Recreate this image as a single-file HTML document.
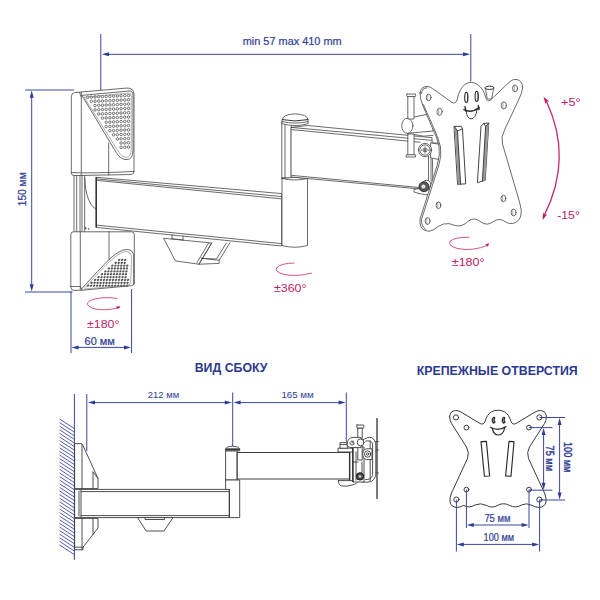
<!DOCTYPE html>
<html lang="ru">
<head>
<meta charset="utf-8">
<title>ВИД СБОКУ / КРЕПЕЖНЫЕ ОТВЕРСТИЯ</title>
<style>
html,body{margin:0;padding:0;background:#fff;}
body{width:600px;height:600px;overflow:hidden;}
svg{display:block;}
.g{fill:none;stroke:#454545;stroke-width:.8;stroke-linejoin:round;stroke-linecap:round;}
.gw{fill:#fff;stroke:#454545;stroke-width:.8;stroke-linejoin:round;stroke-linecap:round;}
.gl{fill:none;stroke:#777;stroke-width:.6;stroke-linecap:round;}
.b{fill:none;stroke:#3a47a3;stroke-width:1;}
.bf{fill:#2f3c97;stroke:none;}
.m{fill:none;stroke:#c4286a;stroke-width:.8;stroke-linecap:round;}
.mf{fill:#c01a66;stroke:none;}
text{font-family:"Liberation Sans",sans-serif;}
.tb{fill:#2f3c97;font-size:10px;stroke:#2f3c97;stroke-width:.2;}
.ts{fill:#2f3c97;font-size:9px;}
.tm{fill:#c01a66;font-size:11.5px;}
.tt{fill:#2b3990;font-size:13px;font-weight:bold;}
#holes-plate .gw,#holes-plate .g{stroke-width:1;stroke:#3a3a3a;}
#sideview .gw,#sideview .g{stroke-width:.9;stroke:#3c3c3c;}
</style>
</head>
<body>
<svg width="600" height="600" viewBox="0 0 600 600">
<rect width="600" height="600" fill="#fff"/>

<!-- ====== TOP VIEW : dimensions ====== -->
<g id="dims-top">
<path class="b" d="M100.8 34V90M470.8 34V81.5M108 54.3H464"/>
<path class="bf" d="M101.8 54.3l7.2-2v4zM470.2 54.3l-7.2-2v4z"/>
<text class="tb" x="242.7" y="45" textLength="99" lengthAdjust="spacingAndGlyphs" style="font-size:11.3px">min 57 max 410 mm</text>
<path class="b" d="M25 90H74M25 292H72.5M31.7 96V286"/>
<path class="bf" d="M31.7 90.5l-2 7.2h4zM31.7 291.5l-2-7.2h4z"/>
<text class="tb" transform="translate(25.7 206.3) rotate(-90)" textLength="34" lengthAdjust="spacingAndGlyphs" style="font-size:10.6px">150 мм</text>
<path class="b" d="M71 291V353M131.6 289V353M77 347.4H126"/>
<path class="bf" d="M71.6 347.4l7-2v4zM131 347.4l-7-2v4z"/>
<text class="tb" x="84.6" y="345" textLength="30.2" lengthAdjust="spacingAndGlyphs" style="font-size:10.2px">60 мм</text>
</g>

<!-- ====== TOP VIEW : drawing ====== -->
<g id="topview">
<!-- column between covers -->
<path class="g" d="M74 175V232M76.7 175V232M80 175V232M82 175V232M84.7 175V232M96.3 177.5V226.7M84.7 178C85.4 196 90 206 96.3 209.5"/>
<!-- upper cover -->
<path class="gw" d="M71.3 96.5Q71.3 93 74.5 92.6L126 88.1Q134 87.4 134 94.5V171.5Q134 174.4 131 174.5L74 175.6Q71.3 175.6 71.3 173Z"/>
<path class="g" d="M81.3 92.2V175.4M79.5 92.4L81.3 97M108.7 143V175M71.3 172.5Q90 173.6 134 171.5"/>
<g fill="#fff" stroke="#484848" stroke-width=".75" transform="translate(0 .4)"><circle cx="128.50" cy="95.06" r="1.25"/><circle cx="124.78" cy="95.22" r="1.25"/><circle cx="121.06" cy="95.39" r="1.25"/><circle cx="117.34" cy="95.56" r="1.25"/><circle cx="113.62" cy="95.72" r="1.25"/><circle cx="109.90" cy="95.89" r="1.25"/><circle cx="106.18" cy="96.06" r="1.25"/><circle cx="102.46" cy="96.23" r="1.25"/><circle cx="98.74" cy="96.39" r="1.25"/><circle cx="95.02" cy="96.56" r="1.25"/><circle cx="91.30" cy="96.73" r="1.25"/><circle cx="87.58" cy="96.90" r="1.25"/><circle cx="128.50" cy="99.36" r="1.25"/><circle cx="124.78" cy="99.52" r="1.25"/><circle cx="121.06" cy="99.69" r="1.25"/><circle cx="117.34" cy="99.86" r="1.25"/><circle cx="113.62" cy="100.02" r="1.25"/><circle cx="109.90" cy="100.19" r="1.25"/><circle cx="106.18" cy="100.36" r="1.25"/><circle cx="102.46" cy="100.53" r="1.25"/><circle cx="98.74" cy="100.69" r="1.25"/><circle cx="95.02" cy="100.86" r="1.25"/><circle cx="91.30" cy="101.03" r="1.25"/><circle cx="128.50" cy="103.66" r="1.25"/><circle cx="124.78" cy="103.82" r="1.25"/><circle cx="121.06" cy="103.99" r="1.25"/><circle cx="117.34" cy="104.16" r="1.25"/><circle cx="113.62" cy="104.32" r="1.25"/><circle cx="109.90" cy="104.49" r="1.25"/><circle cx="106.18" cy="104.66" r="1.25"/><circle cx="102.46" cy="104.83" r="1.25"/><circle cx="98.74" cy="104.99" r="1.25"/><circle cx="95.02" cy="105.16" r="1.25"/><circle cx="128.50" cy="107.96" r="1.25"/><circle cx="124.78" cy="108.12" r="1.25"/><circle cx="121.06" cy="108.29" r="1.25"/><circle cx="117.34" cy="108.46" r="1.25"/><circle cx="113.62" cy="108.62" r="1.25"/><circle cx="109.90" cy="108.79" r="1.25"/><circle cx="106.18" cy="108.96" r="1.25"/><circle cx="102.46" cy="109.13" r="1.25"/><circle cx="98.74" cy="109.29" r="1.25"/><circle cx="95.02" cy="109.46" r="1.25"/><circle cx="128.50" cy="112.26" r="1.25"/><circle cx="124.78" cy="112.42" r="1.25"/><circle cx="121.06" cy="112.59" r="1.25"/><circle cx="117.34" cy="112.76" r="1.25"/><circle cx="113.62" cy="112.92" r="1.25"/><circle cx="109.90" cy="113.09" r="1.25"/><circle cx="106.18" cy="113.26" r="1.25"/><circle cx="102.46" cy="113.43" r="1.25"/><circle cx="98.74" cy="113.59" r="1.25"/><circle cx="128.50" cy="116.56" r="1.25"/><circle cx="124.78" cy="116.72" r="1.25"/><circle cx="121.06" cy="116.89" r="1.25"/><circle cx="117.34" cy="117.06" r="1.25"/><circle cx="113.62" cy="117.22" r="1.25"/><circle cx="109.90" cy="117.39" r="1.25"/><circle cx="106.18" cy="117.56" r="1.25"/><circle cx="102.46" cy="117.73" r="1.25"/><circle cx="128.50" cy="120.86" r="1.25"/><circle cx="124.78" cy="121.02" r="1.25"/><circle cx="121.06" cy="121.19" r="1.25"/><circle cx="117.34" cy="121.36" r="1.25"/><circle cx="113.62" cy="121.52" r="1.25"/><circle cx="109.90" cy="121.69" r="1.25"/><circle cx="106.18" cy="121.86" r="1.25"/><circle cx="128.50" cy="125.16" r="1.25"/><circle cx="124.78" cy="125.32" r="1.25"/><circle cx="121.06" cy="125.49" r="1.25"/><circle cx="117.34" cy="125.66" r="1.25"/><circle cx="113.62" cy="125.82" r="1.25"/><circle cx="109.90" cy="125.99" r="1.25"/><circle cx="106.18" cy="126.16" r="1.25"/><circle cx="128.50" cy="129.46" r="1.25"/><circle cx="124.78" cy="129.62" r="1.25"/><circle cx="121.06" cy="129.79" r="1.25"/><circle cx="117.34" cy="129.96" r="1.25"/><circle cx="113.62" cy="130.12" r="1.25"/><circle cx="109.90" cy="130.29" r="1.25"/><circle cx="128.50" cy="133.75" r="1.25"/><circle cx="124.78" cy="133.92" r="1.25"/><circle cx="121.06" cy="134.09" r="1.25"/><circle cx="117.34" cy="134.26" r="1.25"/><circle cx="113.62" cy="134.42" r="1.25"/><circle cx="128.50" cy="138.06" r="1.25"/><circle cx="124.78" cy="138.22" r="1.25"/><circle cx="121.06" cy="138.39" r="1.25"/><circle cx="117.34" cy="138.56" r="1.25"/><circle cx="128.50" cy="142.35" r="1.25"/><circle cx="124.78" cy="142.52" r="1.25"/><circle cx="121.06" cy="142.69" r="1.25"/><circle cx="128.50" cy="146.66" r="1.25"/><circle cx="124.78" cy="146.82" r="1.25"/><circle cx="121.06" cy="146.99" r="1.25"/></g>
<path class="g" d="M82.3 95.3L129 91Q133 90.8 133 95V150Q133 160 126 159.6Q120.5 159.4 116.2 152.6Z"/>
<path class="gl" d="M84.6 97.2L128.5 93Q131.2 92.9 131.2 96V149Q131.2 157.5 126 157.3Q121.6 157 118 151Z"/>
<!-- lower cover -->
<path class="gw" d="M70.8 234Q70.8 231.8 73.5 231.8H131.5Q134.3 231.8 134.3 234.5V283Q134.3 285.3 131.5 285.7L82.5 290.2L74 290.4Q70.8 290.4 70.8 287.5Z"/>
<path class="g" d="M80.3 231.8V289.6M109 231.8V259.6M70.8 286.5L80.3 286.5L82.3 290"/>
<g fill="#565656"><ellipse cx="119.20" cy="259.90" rx="1.3" ry="1.02" transform="rotate(-25 119.20 259.90)"/><ellipse cx="122.20" cy="259.90" rx="1.3" ry="1.02" transform="rotate(-25 122.20 259.90)"/><ellipse cx="125.20" cy="259.90" rx="1.3" ry="1.02" transform="rotate(-25 125.20 259.90)"/><ellipse cx="115.75" cy="262.76" rx="1.3" ry="1.02" transform="rotate(-25 115.75 262.76)"/><ellipse cx="118.75" cy="262.76" rx="1.3" ry="1.02" transform="rotate(-25 118.75 262.76)"/><ellipse cx="121.75" cy="262.76" rx="1.3" ry="1.02" transform="rotate(-25 121.75 262.76)"/><ellipse cx="124.75" cy="262.76" rx="1.3" ry="1.02" transform="rotate(-25 124.75 262.76)"/><ellipse cx="112.30" cy="265.62" rx="1.3" ry="1.02" transform="rotate(-25 112.30 265.62)"/><ellipse cx="115.30" cy="265.62" rx="1.3" ry="1.02" transform="rotate(-25 115.30 265.62)"/><ellipse cx="118.30" cy="265.62" rx="1.3" ry="1.02" transform="rotate(-25 118.30 265.62)"/><ellipse cx="121.30" cy="265.62" rx="1.3" ry="1.02" transform="rotate(-25 121.30 265.62)"/><ellipse cx="124.30" cy="265.62" rx="1.3" ry="1.02" transform="rotate(-25 124.30 265.62)"/><ellipse cx="127.30" cy="265.62" rx="1.3" ry="1.02" transform="rotate(-25 127.30 265.62)"/><ellipse cx="108.85" cy="268.48" rx="1.3" ry="1.02" transform="rotate(-25 108.85 268.48)"/><ellipse cx="111.85" cy="268.48" rx="1.3" ry="1.02" transform="rotate(-25 111.85 268.48)"/><ellipse cx="114.85" cy="268.48" rx="1.3" ry="1.02" transform="rotate(-25 114.85 268.48)"/><ellipse cx="117.85" cy="268.48" rx="1.3" ry="1.02" transform="rotate(-25 117.85 268.48)"/><ellipse cx="120.85" cy="268.48" rx="1.3" ry="1.02" transform="rotate(-25 120.85 268.48)"/><ellipse cx="123.85" cy="268.48" rx="1.3" ry="1.02" transform="rotate(-25 123.85 268.48)"/><ellipse cx="126.85" cy="268.48" rx="1.3" ry="1.02" transform="rotate(-25 126.85 268.48)"/><ellipse cx="105.40" cy="271.34" rx="1.3" ry="1.02" transform="rotate(-25 105.40 271.34)"/><ellipse cx="108.40" cy="271.34" rx="1.3" ry="1.02" transform="rotate(-25 108.40 271.34)"/><ellipse cx="111.40" cy="271.34" rx="1.3" ry="1.02" transform="rotate(-25 111.40 271.34)"/><ellipse cx="114.40" cy="271.34" rx="1.3" ry="1.02" transform="rotate(-25 114.40 271.34)"/><ellipse cx="117.40" cy="271.34" rx="1.3" ry="1.02" transform="rotate(-25 117.40 271.34)"/><ellipse cx="120.40" cy="271.34" rx="1.3" ry="1.02" transform="rotate(-25 120.40 271.34)"/><ellipse cx="123.40" cy="271.34" rx="1.3" ry="1.02" transform="rotate(-25 123.40 271.34)"/><ellipse cx="126.40" cy="271.34" rx="1.3" ry="1.02" transform="rotate(-25 126.40 271.34)"/><ellipse cx="101.95" cy="274.20" rx="1.3" ry="1.02" transform="rotate(-25 101.95 274.20)"/><ellipse cx="104.95" cy="274.20" rx="1.3" ry="1.02" transform="rotate(-25 104.95 274.20)"/><ellipse cx="107.95" cy="274.20" rx="1.3" ry="1.02" transform="rotate(-25 107.95 274.20)"/><ellipse cx="110.95" cy="274.20" rx="1.3" ry="1.02" transform="rotate(-25 110.95 274.20)"/><ellipse cx="113.95" cy="274.20" rx="1.3" ry="1.02" transform="rotate(-25 113.95 274.20)"/><ellipse cx="116.95" cy="274.20" rx="1.3" ry="1.02" transform="rotate(-25 116.95 274.20)"/><ellipse cx="119.95" cy="274.20" rx="1.3" ry="1.02" transform="rotate(-25 119.95 274.20)"/><ellipse cx="122.95" cy="274.20" rx="1.3" ry="1.02" transform="rotate(-25 122.95 274.20)"/><ellipse cx="125.95" cy="274.20" rx="1.3" ry="1.02" transform="rotate(-25 125.95 274.20)"/><ellipse cx="98.50" cy="277.06" rx="1.3" ry="1.02" transform="rotate(-25 98.50 277.06)"/><ellipse cx="101.50" cy="277.06" rx="1.3" ry="1.02" transform="rotate(-25 101.50 277.06)"/><ellipse cx="104.50" cy="277.06" rx="1.3" ry="1.02" transform="rotate(-25 104.50 277.06)"/><ellipse cx="107.50" cy="277.06" rx="1.3" ry="1.02" transform="rotate(-25 107.50 277.06)"/><ellipse cx="110.50" cy="277.06" rx="1.3" ry="1.02" transform="rotate(-25 110.50 277.06)"/><ellipse cx="113.50" cy="277.06" rx="1.3" ry="1.02" transform="rotate(-25 113.50 277.06)"/><ellipse cx="116.50" cy="277.06" rx="1.3" ry="1.02" transform="rotate(-25 116.50 277.06)"/><ellipse cx="119.50" cy="277.06" rx="1.3" ry="1.02" transform="rotate(-25 119.50 277.06)"/><ellipse cx="122.50" cy="277.06" rx="1.3" ry="1.02" transform="rotate(-25 122.50 277.06)"/><ellipse cx="125.50" cy="277.06" rx="1.3" ry="1.02" transform="rotate(-25 125.50 277.06)"/><ellipse cx="95.05" cy="279.92" rx="1.3" ry="1.02" transform="rotate(-25 95.05 279.92)"/><ellipse cx="98.05" cy="279.92" rx="1.3" ry="1.02" transform="rotate(-25 98.05 279.92)"/><ellipse cx="101.05" cy="279.92" rx="1.3" ry="1.02" transform="rotate(-25 101.05 279.92)"/><ellipse cx="104.05" cy="279.92" rx="1.3" ry="1.02" transform="rotate(-25 104.05 279.92)"/><ellipse cx="107.05" cy="279.92" rx="1.3" ry="1.02" transform="rotate(-25 107.05 279.92)"/><ellipse cx="110.05" cy="279.92" rx="1.3" ry="1.02" transform="rotate(-25 110.05 279.92)"/><ellipse cx="113.05" cy="279.92" rx="1.3" ry="1.02" transform="rotate(-25 113.05 279.92)"/><ellipse cx="116.05" cy="279.92" rx="1.3" ry="1.02" transform="rotate(-25 116.05 279.92)"/><ellipse cx="119.05" cy="279.92" rx="1.3" ry="1.02" transform="rotate(-25 119.05 279.92)"/><ellipse cx="122.05" cy="279.92" rx="1.3" ry="1.02" transform="rotate(-25 122.05 279.92)"/><ellipse cx="125.05" cy="279.92" rx="1.3" ry="1.02" transform="rotate(-25 125.05 279.92)"/><ellipse cx="128.05" cy="279.92" rx="1.3" ry="1.02" transform="rotate(-25 128.05 279.92)"/><ellipse cx="91.60" cy="282.78" rx="1.3" ry="1.02" transform="rotate(-25 91.60 282.78)"/><ellipse cx="94.60" cy="282.78" rx="1.3" ry="1.02" transform="rotate(-25 94.60 282.78)"/><ellipse cx="97.60" cy="282.78" rx="1.3" ry="1.02" transform="rotate(-25 97.60 282.78)"/><ellipse cx="100.60" cy="282.78" rx="1.3" ry="1.02" transform="rotate(-25 100.60 282.78)"/><ellipse cx="103.60" cy="282.78" rx="1.3" ry="1.02" transform="rotate(-25 103.60 282.78)"/><ellipse cx="106.60" cy="282.78" rx="1.3" ry="1.02" transform="rotate(-25 106.60 282.78)"/><ellipse cx="109.60" cy="282.78" rx="1.3" ry="1.02" transform="rotate(-25 109.60 282.78)"/><ellipse cx="112.60" cy="282.78" rx="1.3" ry="1.02" transform="rotate(-25 112.60 282.78)"/><ellipse cx="115.60" cy="282.78" rx="1.3" ry="1.02" transform="rotate(-25 115.60 282.78)"/><ellipse cx="118.60" cy="282.78" rx="1.3" ry="1.02" transform="rotate(-25 118.60 282.78)"/><ellipse cx="121.60" cy="282.78" rx="1.3" ry="1.02" transform="rotate(-25 121.60 282.78)"/><ellipse cx="124.60" cy="282.78" rx="1.3" ry="1.02" transform="rotate(-25 124.60 282.78)"/><ellipse cx="127.60" cy="282.78" rx="1.3" ry="1.02" transform="rotate(-25 127.60 282.78)"/><ellipse cx="88.15" cy="285.64" rx="1.3" ry="1.02" transform="rotate(-25 88.15 285.64)"/><ellipse cx="91.15" cy="285.64" rx="1.3" ry="1.02" transform="rotate(-25 91.15 285.64)"/><ellipse cx="94.15" cy="285.64" rx="1.3" ry="1.02" transform="rotate(-25 94.15 285.64)"/><ellipse cx="97.15" cy="285.64" rx="1.3" ry="1.02" transform="rotate(-25 97.15 285.64)"/><ellipse cx="100.15" cy="285.64" rx="1.3" ry="1.02" transform="rotate(-25 100.15 285.64)"/><ellipse cx="103.15" cy="285.64" rx="1.3" ry="1.02" transform="rotate(-25 103.15 285.64)"/><ellipse cx="106.15" cy="285.64" rx="1.3" ry="1.02" transform="rotate(-25 106.15 285.64)"/><ellipse cx="109.15" cy="285.64" rx="1.3" ry="1.02" transform="rotate(-25 109.15 285.64)"/><ellipse cx="112.15" cy="285.64" rx="1.3" ry="1.02" transform="rotate(-25 112.15 285.64)"/><ellipse cx="115.15" cy="285.64" rx="1.3" ry="1.02" transform="rotate(-25 115.15 285.64)"/><ellipse cx="118.15" cy="285.64" rx="1.3" ry="1.02" transform="rotate(-25 118.15 285.64)"/><ellipse cx="121.15" cy="285.64" rx="1.3" ry="1.02" transform="rotate(-25 121.15 285.64)"/><ellipse cx="124.15" cy="285.64" rx="1.3" ry="1.02" transform="rotate(-25 124.15 285.64)"/><ellipse cx="127.15" cy="285.64" rx="1.3" ry="1.02" transform="rotate(-25 127.15 285.64)"/></g>
<path class="g" d="M81.5 289Q100 268.5 109 259.6Q119 250 126 249.5Q133.5 249.4 133.7 256V284"/>
<path class="gl" d="M85 287.6Q102 269 110 261.2Q119 252.6 125 251.6Q131.5 251.3 131.7 258L130.6 283Q130 285 127 285.3L84 289"/>
<!-- first arm -->
<path class="gw" d="M96.3 177.3L281.7 193.6V246L96.3 227.4Z"/>
<path class="g" d="M96.8 178.9L281.7 196.6M97.5 180.4L280.8 198.8M97.2 225.2L281.7 243.6"/>
<path d="M96.4 177.3V227.4" fill="none" stroke="#333" stroke-width="1.2"/><circle cx="85.6" cy="228.2" r="1" fill="#444"/><circle cx="88.6" cy="229" r=".8" fill="#444"/>
<!-- cable clip -->
<path class="gw" d="M164 238.3L211.7 243L199 264.2L175.8 261Z"/>
<path class="g" d="M230 242.6L219.2 260.3V263.4L199 264.2M226.3 243L216.5 259L201.5 258.3M201.5 258.3L219.2 260.3M172 234.8V238.8M183 236V240M172 238.8L183 240M208.5 243.2L197 262.5M211.7 243L199 264.2"/>
<!-- elbow -->
<path class="gw" d="M282.2 122H291.4V178H282.2Z"/>
<path class="g" d="M285 125V178"/>
<path class="gw" d="M282 178.5V245.5Q294.7 249 307.5 245.5V178.5Z"/>
<path class="gw" d="M282 178.5Q294.7 181.5 307.5 178.5Q294.7 176 282 178.5Z"/>
<path class="gw" d="M282.2 119.6Q283 114.2 295 113.9Q307.2 114.2 308 119.6V123.8Q295 127.4 282.2 123.8Z"/>
<path class="g" style="stroke-width:1;stroke:#333" d="M282.2 119.6Q295 122.4 308 119.6"/><path class="g" d="M282.2 121.6Q295 124.6 308 121.6"/>
<!-- second arm -->
<path class="gw" d="M291.3 127.4L307.8 125.5L432 137.7L433 190.2L291.3 177Z"/>
<path class="g" d="M291.3 127.4L432 140.4M292 129.6L420 142.3M292 175.4L420 187.6"/>
</g>

<!-- ====== TOP VIEW : head / plate ====== -->
<g id="head">
<!-- tilt knob & pin -->
<path class="gw" d="M407.3 118.3L426 114.6L433 113.6V131L407.3 133.3Z"/><path class="g" d="M414 134.6Q424 137.4 433 135.4"/>
<ellipse class="gw" cx="407.3" cy="125.8" rx="5.6" ry="7.5"/>
<path class="gw" d="M408.2 96.5H414V119H408.2Z"/>
<path class="gw" d="M407 94H415.4Q416 95.3 415.4 96.6H407Q406.4 95.3 407 94Z"/>
<path class="gw" d="M408.2 134H414V155H408.2Z"/>
<path class="gw" d="M406.6 154.8H415.6V157H406.6Z"/>
<!-- bracket behind plate -->
<path class="g" d="M428.5 156V181M431 156V181M432 143H440M433 146L441 147"/>
<path class="gw" d="M431 143L442 144.5V160L431 158Z"/>
<circle class="gw" cx="425" cy="150" r="6.6"/>
<circle class="g" cx="425" cy="150" r="5.2"/>
<path class="g" d="M421.5 150H428.5M425 146.8V153.2M423.5 148.8H426.5M423.5 151.3H426.5"/>
<circle cx="426.6" cy="184.4" r="4.2" fill="#fff" stroke="#333" stroke-width=".8"/>
<circle cx="424" cy="186.7" r="5" fill="#5a5a5a" stroke="#2a2a2a" stroke-width=".9"/>
<circle cx="423.4" cy="186.6" r="2.5" fill="#e4e4e4" stroke="#2a2a2a" stroke-width=".6"/>
<path class="g" d="M418 188.5L414 189.5V192L419 193.5M419 193.5L428 195"/>
<!-- tube behind head -->
<path class="gw" d="M485.3 88L487.3 99H491.5L494 87.5Q489.5 85.2 485.3 88Z"/>
<ellipse cx="489.4" cy="87.8" rx="4.4" ry="1.7" fill="#fff" stroke="#333" stroke-width="1"/>
<!-- plate outline -->
<path class="gw" d="M420 93Q420.5 86.5 427 86.4Q430 86.6 432.5 88.5L452 102.5Q455.5 104.3 457 100Q459.5 88 465.5 84Q471 80.5 477.5 84.5Q483.5 88.5 485.5 97Q487 102.8 490.5 100L510 81.5Q513 78.8 517 79.5Q522.8 81 522.6 88Q522 93 519 99L504.5 130Q500.6 137 502.5 144L519.8 203Q522.3 211 520.8 216Q518.5 222.5 512.5 223.5Q508 224 505 221.5Q499 217.5 493.5 221.5Q487 226.5 481 222Q474.5 216.5 468.5 221Q462 227.5 455 225.5Q449 222.5 443.5 224Q438 226 434 229.5Q429.5 232.5 425 230.5Q419 227.5 420 219L437 166Q440.5 155 439 146Q437 137 432 127L423 106Q420 99 420 93Z"/>
<path class="g" d="M421.4 93.5Q421.7 88 427 87.8M423.4 104.6L433.6 127.6Q438.6 138.6 440.5 147Q441.9 156 438.6 166L421.5 219.4Q420.9 226 425.6 229.4"/>
<!-- holes -->
<g class="gw">
<ellipse cx="428.7" cy="97.5" rx="2.4" ry="3.3"/><ellipse cx="439.6" cy="111.8" rx="2.6" ry="3.6"/>
<ellipse cx="515" cy="88.4" rx="2.5" ry="3.4"/><ellipse cx="503.8" cy="105.4" rx="2.6" ry="3.6"/>
<ellipse cx="438.5" cy="205.3" rx="2.4" ry="3.3"/><ellipse cx="427.6" cy="221" rx="2.5" ry="3.4"/>
<ellipse cx="503.4" cy="198.5" rx="2.4" ry="3.3"/><ellipse cx="513.6" cy="212.5" rx="2.5" ry="3.4"/>
</g>
<path class="gl" d="M427.8 94.6V100.4M438.7 108.6V115M514.2 85.4V91.4M503 102.2V108.6M437.7 202.4V208.2M426.8 218V224M502.6 195.6V201.4M512.8 209.5V215.5"/>
<!-- slots -->
<path class="gw" style="stroke-width:.95;stroke:#3c3c3c" d="M454.4 126.4L461.3 126.3L462.5 128.8L465.7 183.8L458 184.4Z"/>
<path d="M454.4 126.4L457.5 131L460.6 184.2L458 184.4Z" fill="#9a9a9a" stroke="none"/><path class="g" style="stroke:#333;stroke-width:.9" d="M454.4 126.4L457.5 131L460.6 184.2M457.5 131L462.5 128.8"/>
<path class="gw" style="stroke-width:.95;stroke:#3c3c3c" d="M481.3 126L483.8 123.4L488.8 123.1L485.2 180.3L477.8 182.5Z"/>
<path d="M488.8 123.1L485.6 126.6L482.4 181L485.2 180.3Z" fill="#9a9a9a" stroke="none"/><path class="g" style="stroke:#333;stroke-width:.9" d="M485.6 126.6L482.4 181M483.8 123.4L485.6 126.6L488.8 123.1"/>
<!-- face -->
<g fill="none" stroke="#2e2e2e" stroke-width="1.15" stroke-linecap="round">
<ellipse cx="466.3" cy="97.4" rx="1.6" ry="5"/><ellipse cx="476.7" cy="96.4" rx="1.6" ry="5"/>
<path d="M467.6 94V100.8M478 93V99.8" stroke-width=".8"/>
<path d="M463.9 109.6Q471 113.6 479.2 107.6" stroke-width="1.5"/>
<path d="M465 106.6L465.8 111M478.2 105.4L479 109.6" stroke-width="1.4"/>
<path d="M466.2 111.4Q467 118.6 471 118.9Q475.6 118.6 477 110" stroke-width=".9"/>
</g>
<circle cx="470.5" cy="219.6" r=".6" fill="#666"/>
</g>

<!-- ====== TOP VIEW : rotation marks ====== -->
<g id="rot">
<path class="m" d="M117 298.4Q103 296.4 92.5 299.6Q85 302.6 88.6 306Q94 310.6 108 309.6Q114 309 119.4 307.4"/>
<path class="mf" d="M120.6 306.2l-4.4 .2l1.2 2.6z"/>
<text class="tm" x="87" y="328.2" textLength="32.4" lengthAdjust="spacingAndGlyphs">±180°</text>
<path class="m" d="M294 263Q281 263.4 277 267.4Q273.6 271.6 284 274.4Q296 277 311.5 273.2"/>
<text class="tm" x="274" y="291.9" textLength="32.4" lengthAdjust="spacingAndGlyphs">±360°</text>
<path class="m" d="M469 237.3Q454 237 450 241.4Q447.6 246 458 248.6Q472 251.6 488.4 245.2"/>
<path class="mf" d="M489.2 243l-3.8 1.6l2.2 2.2z"/>
<text class="tm" x="451.8" y="266.2" textLength="32.6" lengthAdjust="spacingAndGlyphs">±180°</text>
<path class="m" style="stroke-width:1.3" d="M546.4 101.3Q573 158 544.5 214.9"/>
<path class="mf" d="M543.4 96.7L549.4 101.6L546.4 101.3L545.6 104.2ZM542.6 220.1L547.4 213.9L544.5 214.9L543 212.2Z"/>
<text class="tm" x="561" y="105.8" textLength="19.6" lengthAdjust="spacingAndGlyphs" style="font-size:11.6px">+5°</text>
<text class="tm" x="557.2" y="219.2" textLength="22.6" lengthAdjust="spacingAndGlyphs" style="font-size:11.6px">-15°</text>
</g>

<!-- ====== titles ====== -->
<text class="tt" x="194.7" y="371.7" textLength="72.8" lengthAdjust="spacingAndGlyphs">ВИД СБОКУ</text>
<text class="tt" x="416.7" y="375" textLength="161" lengthAdjust="spacingAndGlyphs">КРЕПЕЖНЫЕ ОТВЕРСТИЯ</text>

<!-- ====== SIDE VIEW ====== -->
<g id="side-dims">
<path d="M59.6 419.0L74.4 428.6M59.6 422.6L74.4 432.2M59.6 426.2L74.4 435.8M59.6 429.8L74.4 439.4M59.6 433.4L74.4 443.0M59.6 437.0L74.4 446.6M59.6 440.6L74.4 450.2M59.6 444.2L74.4 453.8M59.6 447.8L74.4 457.4M59.6 451.4L74.4 461.0M59.6 455.0L74.4 464.6M59.6 458.6L74.4 468.2M59.6 462.2L74.4 471.8M59.6 465.8L74.4 475.4M59.6 469.4L74.4 479.0M59.6 473.0L74.4 482.6M59.6 476.6L74.4 486.2M59.6 480.2L74.4 489.8M59.6 483.8L74.4 493.4M59.6 487.4L74.4 497.0M59.6 491.0L74.4 500.6M59.6 494.6L74.4 504.2M59.6 498.2L74.4 507.8M59.6 501.8L74.4 511.4M59.6 505.4L74.4 515.0M59.6 509.0L74.4 518.6M59.6 512.6L74.4 522.2M59.6 516.2L74.4 525.8M59.6 519.8L74.4 529.4M59.6 523.4L74.4 533.0M59.6 527.0L74.4 536.6M59.6 530.6L74.4 540.2M59.6 534.2L74.4 543.8M59.6 537.8L74.4 547.4M59.6 541.4L74.4 551.0M59.6 545.0L74.4 554.6" fill="none" stroke="#3f4cab" stroke-width=".9"/>
<path class="b" d="M74.4 394V560M86.8 394V451M232.7 392.5V446M346.3 392.5V441.7M94 402.6H226M239 402.6H340"/>
<path class="bf" d="M88 402.6l7-2v4zM231.8 402.6l-7-2v4zM233.6 402.6l7-2v4zM345.6 402.6l-7-2v4z"/>
<text class="ts" x="147.8" y="397.5" textLength="31.4" lengthAdjust="spacingAndGlyphs">212 мм</text>
<text class="ts" x="281.4" y="397.5" textLength="32.4" lengthAdjust="spacingAndGlyphs">165 мм</text>
</g>
<g id="sideview">
<!-- wall covers -->
<path class="gw" d="M75 443.6H81.5L83 445.6L98 478.5V488.6H75Z"/>
<path class="g" d="M82 444.5V488.6M93 472V488.6M93 472L98 478.5"/>
<path class="gw" d="M75 518.4H98V528L83 547.2V549.8H75Z"/>
<path class="g" d="M82 518.4V549.8M93 518.4V534.4M75 547.2H83"/>
<!-- first arm -->
<path class="gw" d="M75 489.4H229.4V517.6H75Z"/>
<path class="g" d="M81 491.6H229.4M81 515.6H229.4M81 489.4V517.6M79 491V516"/>
<!-- clip -->
<path class="gw" d="M138 517.6H173L164 531H146.5Z"/>
<path class="g" d="M145 517.6V519.5H164.5V517.6"/>
<!-- elbow -->
<path class="gw" d="M226 450.8H237.2V480H226Z"/>
<path class="gw" d="M226 480H239.7V517.6H229.4V489.4H226Z"/>
<path class="gw" d="M225.7 448.6Q226.2 446.5 232.7 446.2Q239.2 446.5 239.7 448.6V450.8H225.7Z"/><path d="M225.9 449.3H239.5" stroke="#333" stroke-width="1.9" fill="none"/>
<path class="g" d="M229.4 489.4V517.6"/>
<!-- second arm -->
<path class="gw" style="stroke-width:1.15" d="M237.2 452.5H349.6V479H237.2Z"/>

<!-- head assembly -->
<path class="gw" d="M338.4 448.2H353V452H338.4Z"/>
<path class="gw" d="M340.4 442.6H347.4V448.2H340.4Z"/>
<path class="g" d="M340.4 444.6H347.4"/>
<path class="gw" d="M338.4 480.6H358Q357.6 484 352 485Q346 487 341 485.8Q338 484.4 338.4 480.6Z"/>
<path d="M377 418V499" fill="none" stroke="#333" stroke-width="1.3"/>
<path class="g" d="M375.6 441.6H378.4M375.6 450H378.4M375.6 473H378.4"/>
<path class="gw" d="M362 440.4Q368 436.6 371.6 437.6Q375.8 440 375.8 446V473Q375.8 478.6 371.6 481.4Q368 482.8 362 482Z"/>
<path class="g" d="M365.6 441.2Q370.4 439.6 372.6 443.4V475.6Q370.4 480 365.6 479.6M370.2 441V480.6"/>
<path class="gw" d="M353 447H364V482H353Z"/>
<path class="g" d="M356 452V480M362 462V472Q361.6 476 358 476.6M353 462H358"/>
<path d="M349.6 452V480.4M353 447V482" fill="none" stroke="#2e2e2e" stroke-width="1.3"/>
<path class="gw" d="M358.2 428H362.2V460H358.2Z"/>
<path class="gw" d="M357 425H363.6Q364.2 426.5 363.6 428H357Q356.4 426.5 357 425Z"/>
<path class="gw" d="M347 443.6Q347.6 437.8 353 437.4H361V447.6H351Q346.8 447.4 347 443.6Z"/>
<path class="g" d="M353.6 441.2Q350.4 440.4 349.8 442.6Q349.8 445 352.4 445Q354.4 444.6 354 442.8H352"/>
<circle class="gw" cx="360.6" cy="442.4" r="3.4"/>
<path class="gw" d="M362.6 452.6Q363 449.2 366.4 448.8H372V459.6H366.4Q362.6 459.2 362.6 452.6Z"/>
<circle class="gw" cx="367.6" cy="454" r="3.2"/>
<circle class="g" cx="367.6" cy="454" r="1.2"/>
<circle cx="360" cy="476.4" r="3.7" fill="#4a4a4a" stroke="#1e1e1e" stroke-width="1"/>
<circle cx="360" cy="476.4" r="1.6" fill="#ddd" stroke="#1e1e1e" stroke-width=".5"/>
</g>

<!-- ====== MOUNTING HOLES ====== -->
<g id="holes-plate" style="stroke-width:1">
<path class="gw" d="M449.6 417Q449.8 411 455.5 410.5Q458.5 410.5 461 412L480 423.5Q483.6 425.3 485 421.5Q487 414.5 491.5 411.8Q498 408.6 504.5 411.8Q509 414.5 511 421.5Q512.4 425.3 516 423.5L535 412Q537.5 410.5 540.5 410.5Q546.2 411 546.4 417Q546.2 420.5 544.5 423.5L529.5 447Q526.4 452.5 528.5 458.5L544.5 493Q546.6 498 546 502Q544.6 507.4 539 507.4Q535.5 507.4 532 505.4Q526.5 502.4 521.5 505Q515.5 508.6 509.5 505.4Q503.5 502.2 498 505.2Q492 508.8 486.5 505.4Q480.5 502.4 475 505Q469 508.6 463.5 505.4Q460 507.4 457 507.4Q451.4 507.4 450 502Q449.4 498 451.5 493L467.5 458.5Q469.6 452.5 466.5 447L451.5 423.5Q449.8 420.5 449.6 417Z"/>
<g class="gw">
<circle cx="456" cy="417.4" r="2.6"/><circle cx="539.4" cy="417.4" r="2.6"/><circle cx="456.4" cy="499.6" r="2.6"/><circle cx="539.4" cy="499.6" r="2.6"/>
<circle cx="466.4" cy="427.6" r="2.4"/><circle cx="529" cy="427.6" r="2.4"/><circle cx="466.4" cy="489.6" r="2.4"/><circle cx="529" cy="489.6" r="2.4"/>
</g>
<path class="gw" style="stroke-width:1.15;stroke:#2c2c2c" d="M481 441.6L486.4 441.4L489.6 476L484.4 476.2Z"/>
<path class="gw" style="stroke-width:1.15;stroke:#2c2c2c" d="M509 441.4L514 441.6L511 476.2L505.6 476Z"/>
<g class="g" style="stroke-width:1.25;stroke:#2c2c2c">
<path d="M493.6 417.4Q491 420 493.4 423Q494.6 423 495 422.2Q493 420 494.8 417.8Q494.4 417.2 493.6 417.4Z"/>
<path d="M503.6 417.4Q501 420 503.4 423Q504.6 423 505 422.2Q503 420 504.8 417.8Q504.4 417.2 503.6 417.4Z"/>
<path d="M490.4 427.2Q498 431.6 506 426.6M492.4 428.6Q493.4 434.8 498.4 435Q503.4 434.6 504.6 428"/>
</g>
</g>
<g id="holes-dims">
<path class="b" d="M539.4 417.5H565M539.4 500H565M529 427.6H552.4M529 490.2H552.4M559.6 423.5V494M543.6 433.5V484.5M466.4 489.6V528M529 489.6V528M456.4 499.6V551.5M539.6 499.6V551.5M472.4 525H523M462.4 544.4H533.6"/>
<path class="bf" d="M559.6 418l-2 7h4zM559.6 499.5l-2-7h4zM543.6 428l-2 7h4zM543.6 489.8l-2-7h4zM466.8 525l7-2v4zM528.6 525l-7-2v4zM456.8 544.4l7-2v4zM539.2 544.4l-7-2v4z"/>
<text class="tb" x="484.4" y="521.6" textLength="26" lengthAdjust="spacingAndGlyphs" style="font-size:10px">75 мм</text>
<text class="tb" x="483.6" y="541.4" textLength="30.4" lengthAdjust="spacingAndGlyphs" style="font-size:10px">100 мм</text>
<text class="tb" transform="translate(546.4 445.6) rotate(90)" textLength="25.4" lengthAdjust="spacingAndGlyphs" style="font-size:10.7px;stroke-width:.45">75 мм</text>
<text class="tb" transform="translate(563.6 442) rotate(90)" textLength="30.4" lengthAdjust="spacingAndGlyphs" style="font-size:10.7px;stroke-width:.45">100 мм</text>
</g>
</svg>
</body>
</html>
